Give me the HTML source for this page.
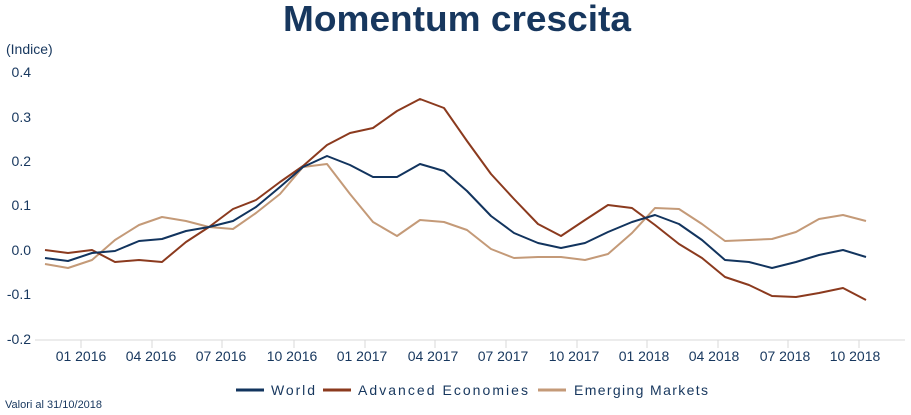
<!DOCTYPE html>
<html><head><meta charset="utf-8"><style>
body{margin:0;background:#fff;}
svg{display:block;font-family:"Liberation Sans",sans-serif;}
</style></head><body>
<svg width="911" height="415" viewBox="0 0 911 415">
<text x="457" y="31" text-anchor="middle" font-size="36" font-weight="bold" fill="#17375e" textLength="348" lengthAdjust="spacingAndGlyphs">Momentum crescita</text>
<text x="6" y="54" font-size="14" fill="#17375e">(Indice)</text>
<g font-size="14" fill="#17375e" text-anchor="end">
<text x="31" y="77">0.4</text><text x="31" y="122">0.3</text><text x="31" y="166">0.2</text>
<text x="31" y="210">0.1</text><text x="31" y="255">0.0</text><text x="31" y="299">-0.1</text><text x="31" y="344">-0.2</text>
</g>
<line x1="35" y1="340" x2="905" y2="340" stroke="#d9d9d9" stroke-width="1"/>
<g stroke="#d9d9d9" stroke-width="1">
<line x1="81" y1="340" x2="81" y2="348"/><line x1="152" y1="340" x2="152" y2="348"/><line x1="222" y1="340" x2="222" y2="348"/><line x1="294" y1="340" x2="294" y2="348"/><line x1="365" y1="340" x2="365" y2="348"/><line x1="435" y1="340" x2="435" y2="348"/><line x1="506" y1="340" x2="506" y2="348"/><line x1="577" y1="340" x2="577" y2="348"/><line x1="647" y1="340" x2="647" y2="348"/><line x1="718" y1="340" x2="718" y2="348"/><line x1="788" y1="340" x2="788" y2="348"/><line x1="859" y1="340" x2="859" y2="348"/>
</g>
<g font-size="14" fill="#17375e" text-anchor="middle">
<text x="81" y="361">01 2016</text><text x="151" y="361">04 2016</text><text x="221" y="361">07 2016</text><text x="292" y="361">10 2016</text><text x="362" y="361">01 2017</text><text x="433" y="361">04 2017</text><text x="503" y="361">07 2017</text><text x="574" y="361">10 2017</text><text x="644" y="361">01 2018</text><text x="714" y="361">04 2018</text><text x="785" y="361">07 2018</text><text x="855" y="361">10 2018</text>
</g>
<g fill="none" stroke-width="2" stroke-linejoin="round">
<polyline stroke="#c49a78" points="45,264 68,268 92,260 115,240 139,225 162,217 186,221 209,227 233,229 256,213 280,194 303,167 327,164 350,194 373,222 397,236 420,220 444,222 467,230 491,249 514,258 538,257 561,257 585,260 608,254 632,233 655,208 679,209 702,224 725,241 749,240 772,239 796,232 819,219 843,215 866,221"/>
<polyline stroke="#8b3a1e" points="45,250 68,253 92,250 115,262 139,260 162,262 186,242 209,227 233,209 256,200 280,182 303,166 327,145 350,133 373,128 397,111 420,99 444,108 467,141 491,174 514,199 538,224 561,236 585,220 608,205 632,208 655,225 679,244 702,258 725,277 749,285 772,296 796,297 819,293 843,288 866,300"/>
<polyline stroke="#12345e" points="45,258 68,261 92,253 115,251 139,241 162,239 186,231 209,227 233,221 256,207 280,187 303,167 327,156 350,165 373,177 397,177 420,164 444,171 467,191 491,216 514,233 538,243 561,248 585,243 608,232 632,222 655,215 679,224 702,240 725,260 749,262 772,268 796,262 819,255 843,250 866,257"/>
</g>
<g font-size="14" fill="#17375e">
<line x1="236" y1="390" x2="264" y2="390" stroke="#12345e" stroke-width="3"/><text x="271" y="395" textLength="44">World</text>
<line x1="323" y1="390" x2="351" y2="390" stroke="#8b3a1e" stroke-width="3"/><text x="358" y="395" textLength="170">Advanced Economies</text>
<line x1="538" y1="390" x2="566" y2="390" stroke="#c49a78" stroke-width="3"/><text x="574" y="395" textLength="134">Emerging Markets</text>
</g>
<text x="5" y="408" font-size="11" fill="#17375e">Valori al 31/10/2018</text>
</svg>
</body></html>
